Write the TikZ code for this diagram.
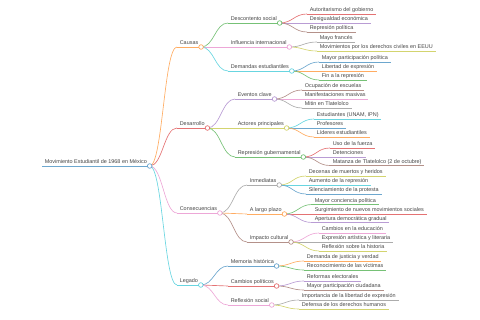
\documentclass[tikz,border=0pt]{standalone}
\usepackage{fontspec}
\setmainfont{Liberation Sans}
\usepackage{xcolor}

\definecolor{mmblue}{HTML}{1F77B4}
\definecolor{mmorange}{HTML}{FF7F0E}
\definecolor{mmgreen}{HTML}{2CA02C}
\definecolor{mmred}{HTML}{D62728}
\definecolor{mmpurple}{HTML}{9467BD}
\definecolor{mmbrown}{HTML}{8C564B}
\definecolor{mmpink}{HTML}{E377C2}
\definecolor{mmgray}{HTML}{7F7F7F}
\definecolor{mmolive}{HTML}{BCBD22}
\definecolor{mmcyan}{HTML}{17BECF}
\definecolor{mmtext}{HTML}{444444}

\begin{document}
\begin{tikzpicture}[x=1pt,y=-1pt,
  lbl/.style={anchor=south west,inner xsep=2.6pt,inner ysep=0.8pt,text height=4pt,text depth=1.2pt,
    font=\fontsize{5.45}{6}\selectfont,text=mmtext},
  uline/.style={#1!65,line width=0.65pt},
  link/.style={#1!65,line width=0.65pt},
  dot/.style={circle,draw=#1!70,fill=white,line width=0.65pt,inner sep=0pt,minimum size=4.6pt}]
  \useasboundingbox (0,0) rectangle (480,320);

  % text of every branch
  \node[lbl] (root) at (42,166) {Movimiento Estudiantil de 1968 en México};

  \node[lbl] (causas) at (177,47) {Causas};
  \node[lbl] (desarrollo) at (177,128) {Desarrollo};
  \node[lbl] (consec) at (177,213) {Consecuencias};
  \node[lbl] (legado) at (177,285) {Legado};

  \node[lbl] (descontento) at (228,23) {Descontento social};
  \node[lbl] (influencia) at (228,47) {Influencia internacional};
  \node[lbl] (demandas) at (228,71) {Demandas estudiantiles};
  \node[lbl] (eventos) at (235,99) {Eventos clave};
  \node[lbl] (actores) at (235,128) {Actores principales};
  \node[lbl] (represion) at (235,157) {Represión gubernamental};
  \node[lbl] (inmediatas) at (247,185) {Inmediatas};
  \node[lbl] (largo) at (247,214) {A largo plazo};
  \node[lbl] (impacto) at (247,242) {Impacto cultural};
  \node[lbl] (memoria) at (228,266) {Memoria histórica};
  \node[lbl] (cambios) at (228,286) {Cambios políticos};
  \node[lbl] (reflexion) at (228,305) {Reflexión social};

  \node[lbl] (autorit) at (307,14) {Autoritarismo del gobierno};
  \node[lbl] (desigual) at (307,23) {Desigualdad económica};
  \node[lbl] (reppol) at (307,32) {Represión política};
  \node[lbl] (mayo) at (317,42) {Mayo francés};
  \node[lbl] (movciv) at (317,51) {Movimientos por los derechos civiles en EEUU};
  \node[lbl] (partpol) at (319,62) {Mayor participación política};
  \node[lbl] (libertad) at (319,71) {Libertad de expresión};
  \node[lbl] (fin) at (319,80) {Fin a la represión};
  \node[lbl] (ocupacion) at (302,90) {Ocupación de escuelas};
  \node[lbl] (manif) at (302,99) {Manifestaciones masivas};
  \node[lbl] (mitin) at (302,108) {Mitin en Tlatelolco};
  \node[lbl] (estud) at (314,119) {Estudiantes (UNAM, IPN)};
  \node[lbl] (profes) at (314,128) {Profesores};
  \node[lbl] (lideres) at (314,137) {Líderes estudiantiles};
  \node[lbl] (fuerza) at (330,148) {Uso de la fuerza};
  \node[lbl] (detenc) at (330,157) {Detenciones};
  \node[lbl] (matanza) at (330,165.5) {Matanza de Tlatelolco (2 de octubre)};
  \node[lbl] (decenas) at (306,176) {Decenas de muertos y heridos};
  \node[lbl] (aumento) at (306,185) {Aumento de la represión};
  \node[lbl] (silenc) at (306,194) {Silenciamiento de la protesta};
  \node[lbl] (concien) at (312,204.5) {Mayor conciencia política};
  \node[lbl] (surgim) at (312,214) {Surgimiento de nuevos movimientos sociales};
  \node[lbl] (apertura) at (312,222.5) {Apertura democrática gradual};
  \node[lbl] (educ) at (319,233) {Cambios en la educación};
  \node[lbl] (artist) at (319,242) {Expresión artística y literaria};
  \node[lbl] (historia) at (319,251) {Reflexión sobre la historia};
  \node[lbl] (justicia) at (304,261) {Demanda de justicia y verdad};
  \node[lbl] (victimas) at (304,270) {Reconocimiento de las víctimas};
  \node[lbl] (reformas) at (304,281) {Reformas electorales};
  \node[lbl] (ciudad) at (304,290) {Mayor participación ciudadana};
  \node[lbl] (importan) at (299,300) {Importancia de la libertad de expresión};
  \node[lbl] (defensa) at (299,309) {Defensa de los derechos humanos};

  % underlines
  \foreach \n/\c in {root/mmblue,causas/mmorange,desarrollo/mmred,consec/mmpink,legado/mmcyan,
      descontento/mmgreen,influencia/mmpink,demandas/mmcyan,eventos/mmpurple,actores/mmolive,
      represion/mmgreen,inmediatas/mmgray,largo/mmorange,impacto/mmbrown,memoria/mmblue,
      cambios/mmred,reflexion/mmpink,
      autorit/mmred,desigual/mmpurple,reppol/mmbrown,mayo/mmgray,movciv/mmolive,
      partpol/mmblue,libertad/mmorange,fin/mmgreen,ocupacion/mmbrown,manif/mmpink,mitin/mmgray,
      estud/mmcyan,profes/mmblue,lideres/mmorange,fuerza/mmred,detenc/mmpurple,matanza/mmbrown,
      decenas/mmolive,aumento/mmcyan,silenc/mmblue,concien/mmgreen,surgim/mmred,apertura/mmpurple,
      educ/mmpink,artist/mmgray,historia/mmolive,justicia/mmorange,victimas/mmgreen,
      reformas/mmpurple,ciudad/mmbrown,importan/mmgray,defensa/mmolive}
    \draw[uline=\c] (\n.south west) -- (\n.south east);

  % links, coloured as the child
  \foreach \p/\n/\c in {root/causas/mmorange,root/desarrollo/mmred,root/consec/mmpink,root/legado/mmcyan,
      causas/descontento/mmgreen,causas/influencia/mmpink,causas/demandas/mmcyan,
      desarrollo/eventos/mmpurple,desarrollo/actores/mmolive,desarrollo/represion/mmgreen,
      consec/inmediatas/mmgray,consec/largo/mmorange,consec/impacto/mmbrown,
      legado/memoria/mmblue,legado/cambios/mmred,legado/reflexion/mmpink,
      descontento/autorit/mmred,descontento/desigual/mmpurple,descontento/reppol/mmbrown,
      influencia/mayo/mmgray,influencia/movciv/mmolive,
      demandas/partpol/mmblue,demandas/libertad/mmorange,demandas/fin/mmgreen,
      eventos/ocupacion/mmbrown,eventos/manif/mmpink,eventos/mitin/mmgray,
      actores/estud/mmcyan,actores/profes/mmblue,actores/lideres/mmorange,
      represion/fuerza/mmred,represion/detenc/mmpurple,represion/matanza/mmbrown,
      inmediatas/decenas/mmolive,inmediatas/aumento/mmcyan,inmediatas/silenc/mmblue,
      largo/concien/mmgreen,largo/surgim/mmred,largo/apertura/mmpurple,
      impacto/educ/mmpink,impacto/artist/mmgray,impacto/historia/mmolive,
      memoria/justicia/mmorange,memoria/victimas/mmgreen,
      cambios/reformas/mmpurple,cambios/ciudad/mmbrown,
      reflexion/importan/mmgray,reflexion/defensa/mmolive}
    \draw[link=\c] (\p.south east) .. controls +(13,0) and +(-13,0) .. (\n.south west);

  % open circles on the branching nodes
  \foreach \n/\c in {root/mmblue,causas/mmorange,desarrollo/mmred,consec/mmpink,legado/mmcyan,
      descontento/mmgreen,influencia/mmpink,demandas/mmcyan,eventos/mmpurple,actores/mmolive,
      represion/mmgreen,inmediatas/mmgray,largo/mmorange,impacto/mmbrown,memoria/mmblue,
      cambios/mmred,reflexion/mmpink}
    \node[dot=\c] (\n-dot) at (\n.south east) {};
\end{tikzpicture}
\end{document}
